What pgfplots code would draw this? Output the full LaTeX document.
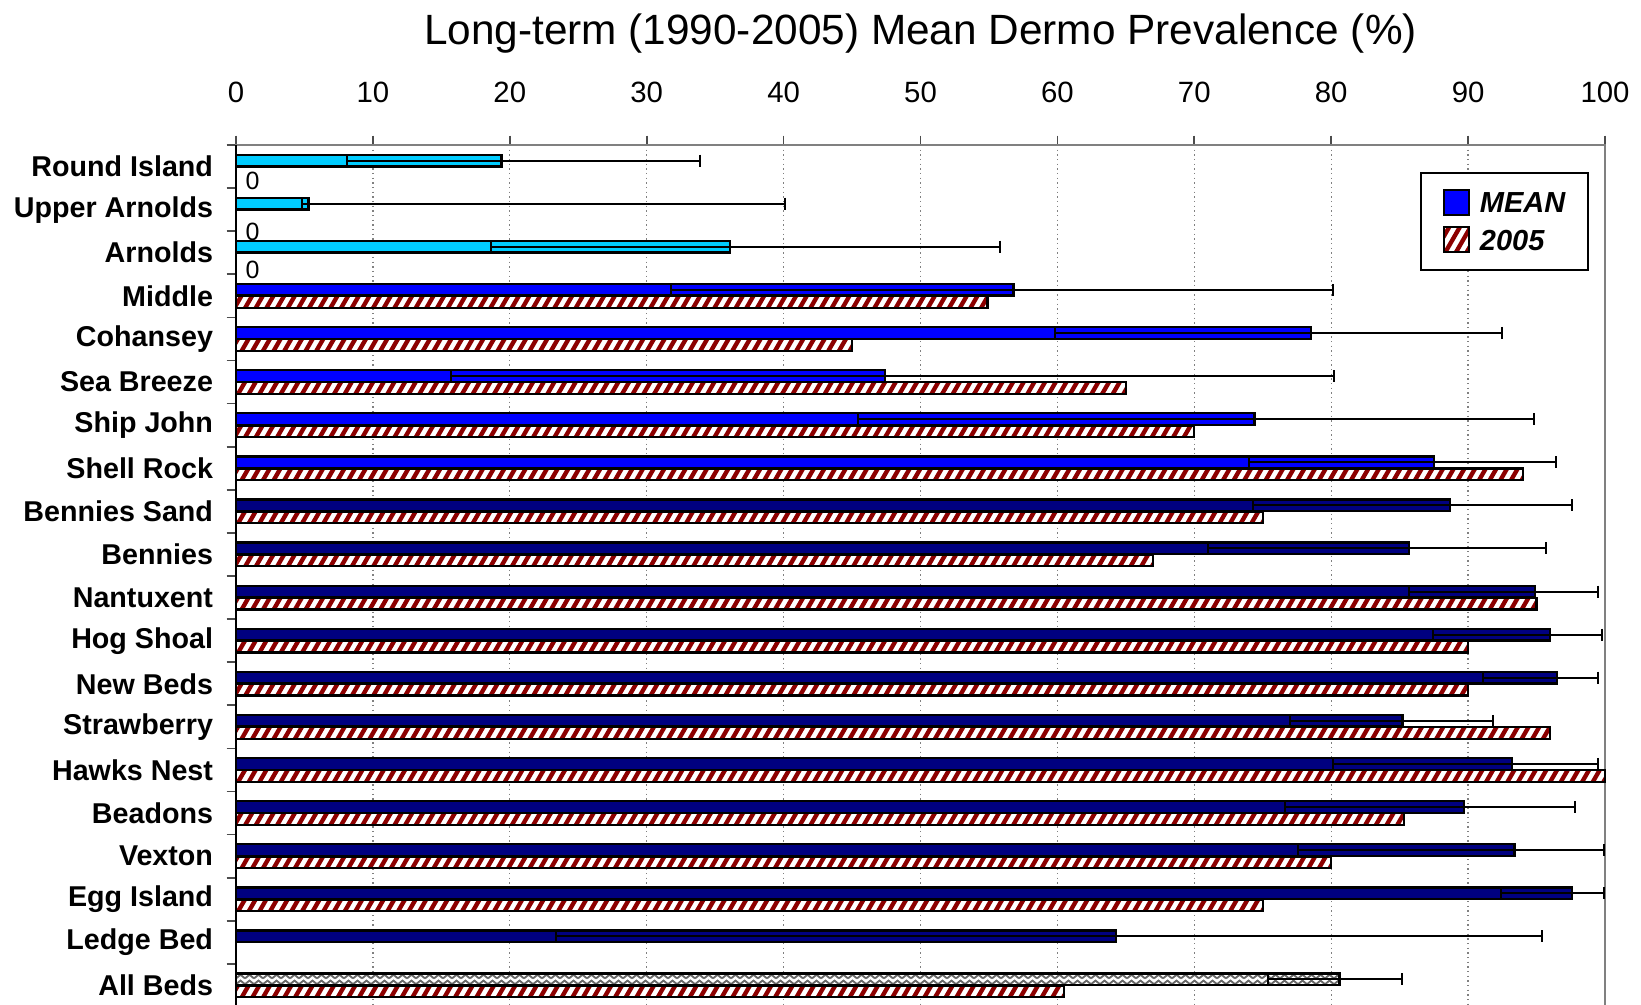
\documentclass[border=0pt]{standalone}
\usepackage{pgfplots}
\pgfplotsset{compat=1.18}
\usepackage{pgfplotstable}
\usepackage{fontspec}
\setmainfont{Liberation Sans}

\definecolor{cyanbar}{RGB}{0,204,255}
\definecolor{bluebar}{RGB}{0,0,255}
\definecolor{navybar}{RGB}{0,0,128}
\definecolor{stripe}{RGB}{140,0,0}
\definecolor{axgray}{RGB}{128,128,128}
\definecolor{zzgray}{RGB}{105,105,105}

\makeatletter
\newif\ifinpp
\newdimen\ppx \newdimen\ppy \newdimen\ppw \newdimen\pph
\newcommand\ppgetbox[1]{%
  \pgfpointanchor{path picture bounding box}{south west}%
  \ppx=\pgf@x \ppy=\pgf@y
  \ifdim\ppx<8000pt\ifdim\ppx>-8000pt\ifdim\ppy<8000pt\ifdim\ppy>-8000pt
    \pgfpointanchor{path picture bounding box}{north east}%
    \ppw=\pgf@x \pph=\pgf@y
    \advance\ppw by -\ppx \advance\pph by -\ppy
    \ifdim\ppw>0.1pt\ifdim\pph>0.1pt #1\fi\fi
  \fi\fi\fi\fi}
\newcommand\stripecode{%
  \ifinpp\else\inpptrue
  \ppgetbox{%
    \pgfsetstrokecolor{stripe}\pgfsetlinewidth{1.3pt}%
    \pgfmathsetlengthmacro\ppdx{0.5774*\pph}%
    \pgfmathtruncatemacro\ppN{(\ppw+\ppdx)/3.2+3}%
    \foreach \i in {0,...,\ppN}{%
      \pgfpathmoveto{\pgfpoint{\ppx-\ppdx+3.2pt*\i-1.6pt}{\ppy}}%
      \pgfpathlineto{\pgfpoint{\ppx+3.2pt*\i-1.6pt}{\ppy+\pph}}%
      \pgfusepath{stroke}%
    }}%
  \fi}
\newcommand\zigcode{%
  \ifinpp\else\inpptrue
  \ppgetbox{%
    \pgfsetstrokecolor{zzgray}\pgfsetlinewidth{0.55pt}%
    \pgfmathtruncatemacro\ppN{\ppw/2.7+1}%
    \pgfmathtruncatemacro\ppR{\pph/1.75+1}%
    \foreach \r in {0,...,\ppR}{%
      \foreach \i in {0,...,\ppN}{%
        \pgfpathmoveto{\pgfpoint{\ppx+2.7pt*\i}{\ppy+1.75pt*\r+0.3pt}}%
        \pgfpathlineto{\pgfpoint{\ppx+2.7pt*\i+1.35pt}{\ppy+1.75pt*\r+1.4pt}}%
        \pgfpathlineto{\pgfpoint{\ppx+2.7pt*\i+2.7pt}{\ppy+1.75pt*\r+0.3pt}}%
        \pgfusepath{stroke}%
      }}}%
  \fi}
\makeatother

\pgfplotstableread{
idx mean em ep
0 19.4 11.3 14.5
1 5.3 0.45 34.8
2 36.1 17.45 19.7
}\cyanT
\pgfplotstableread{
idx mean em ep
3 56.8 25.05 23.3
4 78.5 18.7 13.95
5 47.4 31.7 32.8
6 74.4 29.0 20.4
7 87.5 13.5 8.95
}\blueT
\pgfplotstableread{
idx mean em ep
8 88.7 14.4 8.9
9 85.7 14.7 10.0
10 94.9 9.2 4.6
11 96.0 8.6 3.8
12 96.5 5.4 3.0
13 85.2 8.2 6.6
14 93.2 13.1 6.3
15 89.7 13.1 8.1
16 93.4 15.8 6.5
17 97.6 5.2 2.3
18 64.3 40.9 31.1
}\navyT
\pgfplotstableread{
idx mean em ep
19 80.6 5.2 4.6
}\allT
\pgfplotstableread{
idx val
3 54.9
4 45.0
5 65.0
6 70.0
7 94.0
8 75.0
9 67.0
10 95.0
11 90.0
12 90.0
13 96.0
14 100
15 85.3
16 80.0
17 75.0
19 60.5
}\yrT

\pgfplotsset{
  errstyle/.style={error bars/.cd, x dir=both, x explicit, error mark=|,
    error bar style={black, line width=0.6pt},
    error mark options={black, mark size=1.8pt, line width=0.6pt}},
  sqlegend/.style={legend image code/.code={\draw[##1] (0pt,-3.75pt) rectangle (7.5pt,3.75pt);}},
}

\begin{document}
\begin{tikzpicture}
\path[use as bounding box] (-70.8pt,-258pt) rectangle (421.5pt,43.5pt);
\begin{axis}[
  at={(0,0)}, anchor=north west,
  scale only axis, width=410.7pt, height=258.6pt,
  xbar, bar width=0.27,
  xmin=0, xmax=100, ymin=-0.5, ymax=19.5, y dir=reverse,
  enlargelimits=false, clip=false,
  xtick={0,10,...,100},
  xtick pos=right, xticklabel pos=right,
  tick align=outside, major tick length=2.8pt,
  tick style={black!70, line width=0.5pt},
  xmajorgrids, grid style={axgray, densely dotted, line width=0.4pt},
  axis line style={axgray, line width=0.6pt},
  /pgf/number format/assume math mode=true,
  xticklabel style={font=\fontsize{8.8}{10}\selectfont, anchor=base, inner sep=0pt, yshift=9.9pt},
  ytick={-0.5,0.5,...,19.5}, yticklabels={}, ytick pos=left,
  extra y ticks={0,...,19},
  extra y tick labels={Round Island,Upper Arnolds,Arnolds,Middle,Cohansey,Sea Breeze,Ship John,Shell Rock,Bennies Sand,Bennies,Nantuxent,Hog Shoal,New Beds,Strawberry,Hawks Nest,Beadons,Vexton,Egg Island,Ledge Bed,All Beds},
  extra y tick style={tick style={draw=none}, grid=none,
    yticklabel style={font=\bfseries\fontsize{8.6}{10}\selectfont, anchor=east, inner sep=0pt, xshift=-3.9pt}},
  title={Long-term (1990-2005) Mean Dermo Prevalence (\%)},
  title style={font=\fontsize{12.7}{15}\selectfont, anchor=base, at={(0.5,1)}, yshift=24pt},
  legend style={at={(0.9883,0.969)}, anchor=north east, draw=black, line width=0.6pt,
    font=\bfseries\itshape\fontsize{8.7}{10}\selectfont, inner xsep=6.3pt, inner ysep=4.8pt,
    nodes={inner sep=0.5pt, text height=6.3pt, text depth=0pt},
    row sep=2.7pt, column sep=2.2pt, legend cell align=left},
]
\addplot[xbar, bar shift=-0.14, fill=bluebar, draw=black, line width=0.7pt, sqlegend, errstyle]
  table[x=mean, y=idx, x error minus=em, x error plus=ep]{\blueT};
\addlegendentry{MEAN}
\addplot[xbar, bar shift=0.14, fill=white, draw=black, line width=0.7pt, sqlegend,
  path picture={\stripecode}]
  table[x=val, y=idx]{\yrT};
\addlegendentry{2005}
\addplot[forget plot, xbar, bar shift=-0.14, fill=cyanbar, draw=black, line width=0.7pt, errstyle]
  table[x=mean, y=idx, x error minus=em, x error plus=ep]{\cyanT};
\addplot[forget plot, xbar, bar shift=-0.14, fill=navybar, draw=black, line width=0.7pt, errstyle]
  table[x=mean, y=idx, x error minus=em, x error plus=ep]{\navyT};
\addplot[forget plot, xbar, bar shift=-0.14, fill=white, draw=black, line width=0.7pt,
  path picture={\zigcode}, errstyle]
  table[x=mean, y=idx, x error minus=em, x error plus=ep]{\allT};
\draw[black, line width=0.6pt] (rel axis cs:0,0) -- (rel axis cs:0,1);
\node[anchor=west, inner sep=0pt, font=\fontsize{7.5}{9}\selectfont] at (axis cs:0.66,0.335) {0};
\node[anchor=west, inner sep=0pt, font=\fontsize{7.5}{9}\selectfont] at (axis cs:0.66,1.507) {0};
\node[anchor=west, inner sep=0pt, font=\fontsize{7.5}{9}\selectfont] at (axis cs:0.66,2.40) {0};
\end{axis}
\end{tikzpicture}
\end{document}
